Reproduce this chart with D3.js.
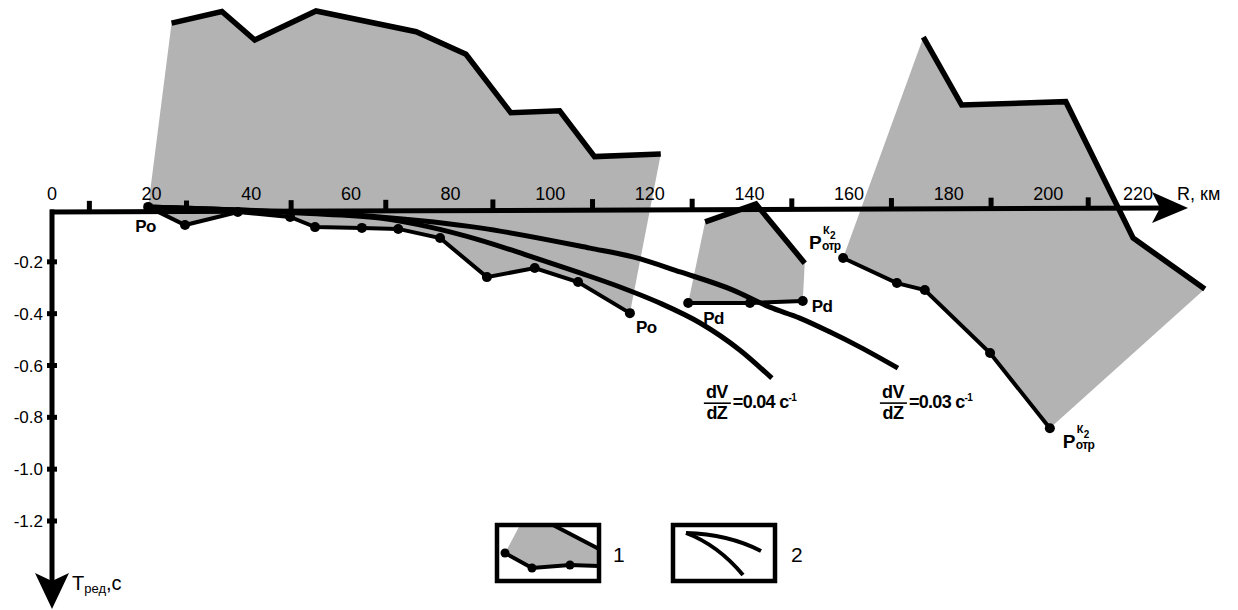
<!DOCTYPE html>
<html><head><meta charset="utf-8">
<script src="https://cdn.jsdelivr.net/npm/d3@7"></script>
<style>
body{margin:0;background:#fff}
svg{display:block}
text{font-family:"Liberation Sans",Arial,Helvetica,sans-serif;fill:#000}
</style>
</head><body>
<svg id="chart" width="1238" height="610"></svg>
<script>
// ---------- data (R, km ; T_ред, s) ----------
const xTickLabels = [0, 20, 40, 60, 80, 100, 120, 140, 160, 180, 200, 220];
const xTickMarks  = [7.5, 27, 48, 67, 88.5, 108.5, 128.5, 148.5, 168.5, 188.5, 208];
const yTickLabels = [-0.2, -0.4, -0.6, -0.8, -1.0, -1.2];

// zone 1 : upper boundary and Po travel-time line
const zone1TopR = [24.0, 34.1, 40.7, 53.0, 73.1, 83.1, 92.1, 101.9, 108.9, 122.2];
const zone1TopT = [0.721, 0.766, 0.656, 0.768, 0.688, 0.601, 0.375, 0.383, 0.206, 0.216];
const poR = [19.3, 26.7, 37.3, 47.8, 52.8, 62.2, 69.5, 77.9, 87.3, 96.9, 105.6, 116.0];
const poT = [0.012, -0.058, -0.008, -0.027, -0.066, -0.069, -0.073, -0.108, -0.259, -0.224, -0.278, -0.398];

// zone 2 : upper boundary and Pd line
const zone2TopR = [131.1, 141.3, 151.1];
const zone2TopT = [-0.046, 0.023, -0.205];
const pdR = [127.7, 140.1, 150.7];
const pdT = [-0.359, -0.359, -0.351];

// zone 3 : upper boundary and P_отр^K2 line
const zone3TopR = [174.9, 182.6, 203.5, 217.0, 231.4];
const zone3TopT = [0.667, 0.405, 0.418, -0.108, -0.305];
const potrR = [158.8, 169.6, 175.2, 188.3, 200.3];
const potrT = [-0.185, -0.282, -0.309, -0.552, -0.842];

// theoretical curves dV/dZ
const c004R = [19.3, 37.7, 49.8, 65.8, 75.9, 85.9, 95.9, 106.0, 114.0, 122.0, 130.1, 138.1, 144.5];
const c004T = [0.012, 0, -0.012, -0.031, -0.066, -0.116, -0.178, -0.243, -0.297, -0.359, -0.436, -0.541, -0.649];
const c003R = [19.3, 37.7, 49.8, 65.8, 85.9, 108.0, 116.6, 126.1, 136.7, 144.1, 150.1, 156.2, 162.2, 169.8];
const c003T = [0.012, 0, -0.008, -0.027, -0.069, -0.147, -0.181, -0.239, -0.309, -0.375, -0.417, -0.471, -0.529, -0.610];

// ---------- drawing ----------
const svg = d3.select("#chart");
const x = d3.scaleLinear().domain([0, 220]).range([52, 1148]);
const y = d3.scaleLinear().domain([0, -1.2]).range([210, 521]);
const zip = (a, b) => a.map((v, i) => [v, b[i]]);
const line = d3.line().x(d => x(d[0])).y(d => y(d[1]));
const smooth = d3.line().x(d => x(d[0])).y(d => y(d[1])).curve(d3.curveMonotoneX);
const GRAY = "#b3b3b3";

const top1 = zip(zone1TopR, zone1TopT), po = zip(poR, poT);
const top2 = zip(zone2TopR, zone2TopT), pd = zip(pdR, pdT);
const top3 = zip(zone3TopR, zone3TopT), potr = zip(potrR, potrT);

// gray zones
const polys = [
  top1.concat(po.slice().reverse()),
  top2.concat(pd.slice().reverse()),
  top3.concat(potr.slice().reverse())
];
svg.append("g").selectAll("path").data(polys).join("path")
  .attr("d", d => line(d) + "Z").attr("fill", GRAY).attr("stroke", "none");

// axes
const x0 = x(0), axY0 = y(0) + 2, tipX = 1188, axY1 = y(0) - 2;
const axisYat = px => axY0 + (axY1 - axY0) * (px - x0) / (tipX - x0);
const ax = svg.append("g");
ax.append("line").attr("x1", x0 - 2).attr("y1", axY0).attr("x2", tipX - 20).attr("y2", axisYat(tipX - 20))
  .attr("stroke", "#000").attr("stroke-width", 5);
ax.append("path").attr("d", `M${tipX - 36},${axisYat(tipX) - 16} L${tipX},${axisYat(tipX)} L${tipX - 36},${axisYat(tipX) + 15} L${tipX - 28},${axisYat(tipX)} Z`).attr("fill", "#000");
ax.selectAll(".xt").data(xTickMarks).join("rect")
  .attr("x", d => x(d) - 2.5).attr("y", d => axisYat(x(d)) - 11).attr("width", 5).attr("height", 11).attr("fill", "#000");
ax.selectAll(".xl").data(xTickLabels).join("text")
  .attr("x", (d, i) => x(d) + (i === xTickLabels.length - 1 ? -10 : 0)).attr("y", 200)
  .attr("text-anchor", "middle").attr("font-size", 18).text(d => d);
ax.append("text").attr("x", 1177).attr("y", 200).attr("font-size", 18).text("R, км");

// y axis
ax.append("line").attr("x1", x0).attr("y1", axY0 - 2.5).attr("x2", x0).attr("y2", 590)
  .attr("stroke", "#000").attr("stroke-width", 5);
ax.append("path").attr("d", `M${x0 - 17},573 L${x0},609 L${x0 + 17},573 L${x0},581 Z`).attr("fill", "#000");
ax.selectAll(".yt").data(yTickLabels).join("rect")
  .attr("x", x0 - 5).attr("y", d => y(d) - 2.5).attr("width", 10).attr("height", 5).attr("fill", "#000");
ax.selectAll(".yl").data(yTickLabels).join("text")
  .attr("x", 43).attr("y", d => y(d) + 6).attr("text-anchor", "end").attr("font-size", 17)
  .text(d => d.toFixed(1));
const tl = ax.append("text").attr("x", 72).attr("y", 590).attr("font-size", 20);
tl.append("tspan").text("T");
tl.append("tspan").attr("font-size", 13).attr("dy", 3).text("ред");
tl.append("tspan").attr("dy", -3).text(",c");

// theoretical curves
svg.append("g").selectAll("path").data([zip(c004R, c004T), zip(c003R, c003T)]).join("path")
  .attr("d", smooth).attr("fill", "none").attr("stroke", "#000").attr("stroke-width", 5).attr("stroke-linecap", "butt");

// upper boundaries
svg.append("g").selectAll("path").data([top1, top2, top3]).join("path")
  .attr("d", line).attr("fill", "none").attr("stroke", "#000").attr("stroke-width", 5.5).attr("stroke-linejoin", "miter");

// travel-time lines with dots
const obs = [po, pd, potr];
svg.append("g").selectAll("path").data(obs).join("path")
  .attr("d", line).attr("fill", "none").attr("stroke", "#000").attr("stroke-width", 4);
svg.append("g").selectAll("circle").data(obs.flat()).join("circle")
  .attr("cx", d => x(d[0])).attr("cy", d => y(d[1])).attr("r", 5).attr("fill", "#000");

// labels
const bold = (px, py, s, size) => svg.append("text").attr("x", px).attr("y", py)
  .attr("font-size", size || 17).attr("font-weight", "bold").attr("letter-spacing", -0.6).text(s);
bold(x(poR[0]) - 13, y(poT[0]) + 25, "Po");
bold(x(poR[poR.length - 1]) + 6, y(poT[poT.length - 1]) + 20, "Po");
bold(x(pdR[0]) + 15, y(pdT[0]) + 21, "Pd");
bold(x(pdR[2]) + 9, y(pdT[2]) + 11, "Pd");

function pOtr(px, py) {
  bold(px, py, "P", 19);
  bold(px + 13, py + 1, "отр", 12);
  bold(px + 14, py - 15, "К", 11);
  bold(px + 21, py - 10, "2", 10);
}
pOtr(x(potrR[0]) - 34, y(potrT[0]) - 9);
pOtr(x(potrR[4]) + 13, y(potrT[4]) + 20);

function grad(px, py, val) {
  const g = svg.append("g").attr("transform", `translate(${px},${py})`);
  g.append("text").attr("x", 12).attr("y", 0).attr("text-anchor", "middle").attr("font-size", 18).attr("font-weight", "bold").attr("letter-spacing", -0.6).text("dV");
  g.append("line").attr("x1", -1).attr("x2", 26).attr("y1", 5).attr("y2", 5).attr("stroke", "#000").attr("stroke-width", 1.6);
  g.append("text").attr("x", 12).attr("y", 21).attr("text-anchor", "middle").attr("font-size", 18).attr("font-weight", "bold").attr("letter-spacing", -0.6).text("dZ");
  const t = g.append("text").attr("x", 28).attr("y", 10).attr("font-size", 18).attr("font-weight", "bold").attr("letter-spacing", -0.7);
  t.append("tspan").text("=" + val + " c");
  t.append("tspan").attr("font-size", 10).attr("dy", -7).text("-1");
}
grad(x(c004R[c004R.length - 1]) - 67, y(c004T[c004T.length - 1]) + 20, "0.04");
grad(x(c003R[c003R.length - 1]) - 17, y(c003T[c003T.length - 1]) + 30, "0.03");

// legend
const lg = svg.append("g");
const b1 = {x: 497, y: 525, w: 102, h: 56};
const b2 = {x: 673, y: 525, w: 102, h: 56};
lg.append("clipPath").attr("id", "cl1").append("rect").attr("x", b1.x).attr("y", b1.y).attr("width", b1.w).attr("height", b1.h);
const l1 = lg.append("g").attr("clip-path", "url(#cl1)");
l1.append("path").attr("d", `M${b1.x + 8},${b1.y + 28} L${b1.x + 23},${b1.y} L${b1.x + 56},${b1.y} L${b1.x + 100},${b1.y + 23} L${b1.x + 100},${b1.y + 41} L${b1.x + 73},${b1.y + 40} L${b1.x + 35},${b1.y + 43} Z`).attr("fill", GRAY);
l1.append("path").attr("d", `M${b1.x + 56},${b1.y} L${b1.x + 102},${b1.y + 24}`).attr("stroke", "#000").attr("stroke-width", 4).attr("fill", "none");
l1.append("path").attr("d", `M${b1.x + 8},${b1.y + 28} L${b1.x + 35},${b1.y + 43} L${b1.x + 73},${b1.y + 40} L${b1.x + 102},${b1.y + 41}`).attr("stroke", "#000").attr("stroke-width", 4).attr("fill", "none");
[[8, 28], [35, 43], [73, 40]].forEach(p => l1.append("circle").attr("cx", b1.x + p[0]).attr("cy", b1.y + p[1]).attr("r", 4.5).attr("fill", "#000"));
lg.append("rect").attr("x", b1.x).attr("y", b1.y).attr("width", b1.w).attr("height", b1.h).attr("fill", "none").attr("stroke", "#000").attr("stroke-width", 4.5);
lg.append("text").attr("x", 613).attr("y", 562).attr("font-size", 21).text("1");

lg.append("rect").attr("x", b2.x).attr("y", b2.y).attr("width", b2.w).attr("height", b2.h).attr("fill", "none").attr("stroke", "#000").attr("stroke-width", 4.5);
lg.append("path").attr("d", `M${b2.x + 13},${b2.y + 8} Q${b2.x + 55},${b2.y + 9} ${b2.x + 88},${b2.y + 26}`).attr("stroke", "#000").attr("stroke-width", 4).attr("fill", "none");
lg.append("path").attr("d", `M${b2.x + 13},${b2.y + 8} Q${b2.x + 45},${b2.y + 20} ${b2.x + 70},${b2.y + 50}`).attr("stroke", "#000").attr("stroke-width", 4).attr("fill", "none");
lg.append("text").attr("x", 791).attr("y", 562).attr("font-size", 21).text("2");
</script>
</body></html>
